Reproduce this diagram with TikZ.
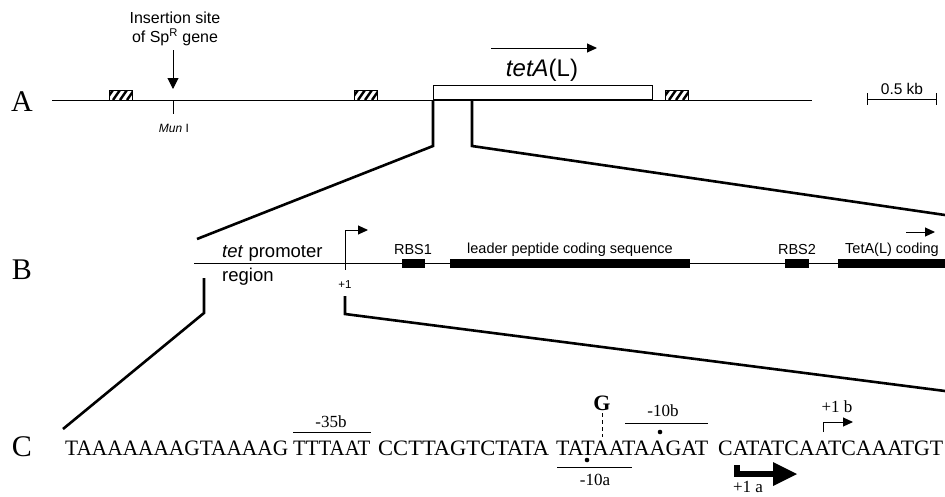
\documentclass[tikz,border=0pt]{standalone}
\usepackage{fontspec}
\usepackage{graphicx}
\setmainfont{Liberation Serif}
\setsansfont{Liberation Sans}
\usetikzlibrary{arrows.meta}
\newcommand{\fitseq}[2]{\resizebox{#1pt}{\height}{#2}}
\begin{document}
\begin{tikzpicture}[x=1pt,y=-1pt,
  lbl/.style={font=\sffamily\fontsize{14.5}{16}\selectfont, inner sep=0pt},
  toplbl/.style={font=\sffamily\fontsize{16}{18}\selectfont, inner sep=0pt},
  panel/.style={font=\rmfamily\fontsize{30}{30}\selectfont, inner sep=0pt},
  seqtxt/.style={font=\rmfamily\fontsize{22}{22}\selectfont, inner sep=0pt, anchor=base west},
  ann/.style={font=\rmfamily\fontsize{17}{17}\selectfont, inner sep=0pt},
  dna/.style={line width=1pt},
  fan/.style={line width=2.6pt, line join=miter},
  arr/.style={line width=1pt, -{Triangle[length=10pt, width=9pt]}},
  feat/.style={fill=black, draw=none, inner sep=0pt, minimum height=9pt, anchor=west},
]
\useasboundingbox (0,0) rectangle (945,496);

% ---------------- Panel A ----------------
\node[panel] (pA) at (22,102) {A};
\coordinate (a0) at (52,100);
\coordinate (a1) at (812,100);
\draw[dna] (a0) -- (a1);

% hatched boxes
\foreach \hx in {109,354,665}{
  \draw[line width=0.9pt, fill=white] (\hx,100) rectangle ++(23,-10);
  \begin{scope}
    \clip (\hx,100) rectangle ++(23,-10);
    \foreach \i in {-3,4,11,18}{
      \draw[line width=2.4pt] (\hx+\i,100) -- ++(7,-10);
    }
  \end{scope}
}

% tetA box
\node[draw, fill=white, line width=1pt, minimum width=219pt, minimum height=14pt,
      inner sep=0pt, anchor=south west] (tet) at (433,100) {};
\coordinate (ta0) at (491,48);
\coordinate (ta1) at (597,48);
\draw[arr] (ta0) -- (ta1);
\node[font=\sffamily\fontsize{24}{24}\selectfont, inner sep=0pt] (tetlbl) at (542,70) {\textit{tetA}(L)};

% Mun I site
\coordinate (mun) at (173,100);
\coordinate (munb) at (173,114);
\draw[dna] (mun) -- (munb);
\node[font=\sffamily\fontsize{12}{12}\selectfont, inner sep=0pt] (munlbl) at (174,128) {\textit{Mun} I};
\node[toplbl] (ins1) at (175,18) {Insertion site};
\node[toplbl] (ins2) at (175,37) {of Sp\textsuperscript{R} gene};
\coordinate (insT) at (173,50);
\coordinate (insH) at (173,89);
\draw[line width=1pt, -{Triangle[length=11pt, width=11pt]}] (insT) -- (insH);

% scale bar
\coordinate (sb0) at (867,99);
\coordinate (sb1) at (936,99);
\draw[dna] (sb0) -- (sb1);
\draw[dna] (sb0) ++(0,-6) -- ++(0,12);
\draw[dna] (sb1) ++(0,-6) -- ++(0,12);
\node[font=\sffamily\fontsize{15.5}{16}\selectfont, inner sep=0pt] (sblbl) at (902,89) {0.5 kb};

% fan A -> B
\coordinate (fa1) at (433,100);
\coordinate (fa2) at (433,146);
\coordinate (fa3) at (197,239);
\coordinate (fb1) at (472,100);
\coordinate (fb2) at (472,146);
\coordinate (fb3) at (945,215);
\draw[fan] (fa1) -- (fa2) -- (fa3);
\draw[fan] (fb1) -- (fb2) -- (fb3);

% ---------------- Panel B ----------------
\node[panel] (pB) at (22,270) {B};
\coordinate (b0) at (194,263);
\coordinate (b1) at (945,263);
\draw[dna] (b0) -- (b1);
\node[feat, minimum width=23pt] (rbs1) at (402,263) {};
\node[feat, minimum width=240pt] (lead) at (450,263) {};
\node[feat, minimum width=24pt] (rbs2) at (785,263) {};
\node[feat, minimum width=107pt] (tetcod) at (838,263) {};
\node[lbl] (rbs1lbl) at (413,250) {RBS1};
\node[lbl] (leadlbl) at (570,250) {leader peptide coding sequence};
\node[lbl] (rbs2lbl) at (797,250) {RBS2};
\node[lbl, anchor=west] (tetcodlbl) at (845,250) {TetA(L) coding};
\coordinate (tc0) at (906,232);
\coordinate (tc1) at (935,232);
\draw[arr] (tc0) -- (tc1);

\node[font=\sffamily\fontsize{18.5}{18.5}\selectfont, inner sep=0pt, anchor=west] (prom) at (222,253) {\textit{tet} promoter};
\node[font=\sffamily\fontsize{18.5}{18.5}\selectfont, inner sep=0pt, anchor=west] (region) at (222,277) {region};

\coordinate (p1) at (345,263);
\coordinate (p1b) at (345,270);
\coordinate (p1h) at (368,230);
\draw[dna] (p1) -- (p1b);
\draw[arr] (p1) |- (p1h);
\node[font=\sffamily\fontsize{11.5}{11.5}\selectfont, inner sep=0pt] (plus1) at (345,285) {+1};

% fan B -> C
\coordinate (fc1) at (204,278);
\coordinate (fc2) at (204,313);
\coordinate (fc3) at (63,429);
\coordinate (fd1) at (345,296);
\coordinate (fd2) at (345,314);
\coordinate (fd3) at (945,391);
\draw[fan] (fc1) -- (fc2) -- (fc3);
\draw[fan] (fd1) -- (fd2) -- (fd3);

% ---------------- Panel C ----------------
\node[panel] (pC) at (22,447) {C};
\node[seqtxt] (s1) at (65,455) {\fitseq{223}{TAAAAAAAGTAAAAG}};
\node[seqtxt] (s2) at (293,455) {\fitseq{77}{TTTAAT}};
\node[seqtxt] (s3) at (378,455) {\fitseq{171}{CCTTAGTCTATA}};
\node[seqtxt] (s4) at (556,455) {\fitseq{152}{TATAATAAGAT}};
\node[seqtxt] (s5) at (718,455) {\fitseq{225}{CATATCAATCAAATGT}};

% -35b
\coordinate (m35a) at (293,432);
\coordinate (m35b) at (371,432);
\draw[dna] (m35a) -- (m35b);
\node[ann] (l35) at (331,422) {-35b};

% G substitution
\node[font=\rmfamily\bfseries\fontsize{22}{22}\selectfont, inner sep=0pt] (gsub) at (602,403) {G};
\coordinate (g0) at (602,413);
\coordinate (g1) at (602,437);
\draw[line width=1pt, dash pattern=on 4pt off 3pt] (g0) -- (g1);

% -10b
\coordinate (m10b0) at (625,423);
\coordinate (m10b1) at (708,423);
\draw[dna] (m10b0) -- (m10b1);
\node[ann] (l10b) at (663,411) {-10b};
\fill (660,432) circle (2.3pt);

% -10a
\coordinate (m10a0) at (557,467);
\coordinate (m10a1) at (632,467);
\draw[dna] (m10a0) -- (m10a1);
\fill (587,460) circle (2.3pt);
\node[ann] (l10a) at (595,480) {-10a};

% +1 b
\coordinate (pb0) at (823,432);
\coordinate (pb1) at (853,422);
\draw[arr] (pb0) |- (pb1);
\node[ann] (lpb) at (837,407) {+1 b};

% +1 a
\coordinate (pa0) at (737,465);
\coordinate (pa1) at (775,474);
\draw[line width=6pt, line join=miter] (pa0) |- (pa1);
\fill (773,462) -- (797,474) -- (773,486) -- cycle;
\node[ann] (lpa) at (748,487) {+1 a};
\end{tikzpicture}
\end{document}
